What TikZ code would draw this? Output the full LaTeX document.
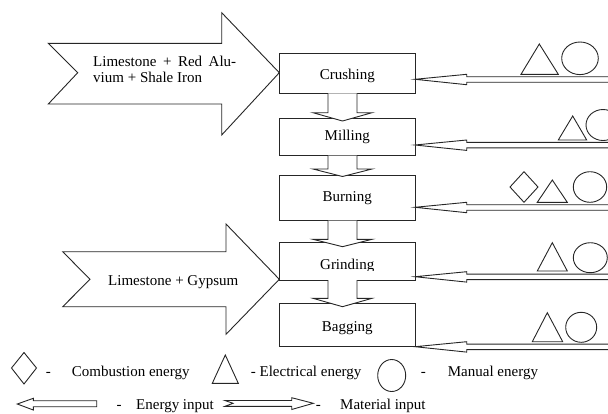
\documentclass[tikz,border=0pt]{standalone}
\usepackage{fontspec}
\setmainfont{Liberation Serif}
\begin{document}
\begin{tikzpicture}[x=1pt,y=-1pt,
  ln/.style={draw=black!85,line width=0.9pt,line join=miter},
  shp/.style={ln,fill=white},
  box/.style={ln,rectangle,inner sep=0pt,minimum width=135.5pt},
  lbl/.style={inner sep=0pt,font=\fontsize{15}{16}\selectfont},
  lblw/.style={lbl,anchor=base west},
  lblc/.style={lbl,anchor=base}]
\useasboundingbox (0,0) rectangle (608,413);
\clip (0,0) rectangle (608,413);

% process boxes
\node[box,minimum height=40pt]   (crush) at (347.25,73.3)  {};
\node[box,minimum height=37.4pt] (mill)  at (347.25,137)   {};
\node[box,minimum height=45pt]   (burn)  at (347.25,198.2) {};
\node[box,minimum height=37.3pt] (grind) at (347.25,261.3) {};
\node[box,minimum height=43.4pt] (bag)   at (347.25,325)   {};

\node[lblc] (tcrush) at (347.25,79.3)  {Crushing};
\node[lblc] (tmill)  at (347.25,140)   {Milling};
\node[lblc] (tburn)  at (347.25,201.7) {Burning};
\begin{scope}
\clip (279,242) rectangle (415,270.2);
\node[lblc] (tgrind) at (347.25,269) {Grinding};
\end{scope}
\node[lblc] (tbag)   at (347.25,331)   {Bagging};

% down arrows between stages
\draw[shp] (328,93.3) -- (328,112.7) -- (313,112.7) -- (342.5,121) -- (372,112.7) -- (357,112.7) -- (357,93.3);
\draw[shp] (328,155.7) -- (328,169) -- (313,169) -- (342.5,176.5) -- (372,169) -- (357,169) -- (357,155.7);
\draw[shp] (328,220.7) -- (328,239.3) -- (313,239.3) -- (342.5,246.7) -- (372,239.3) -- (357,239.3) -- (357,220.7);
\draw[shp] (328,280) -- (328,298.3) -- (313,298.3) -- (342.5,306.7) -- (372,298.3) -- (357,298.3) -- (357,280);

% material input arrows
\draw[shp] (48.3,43.3) -- (221.7,43.3) -- (221.7,12.7) -- (279.3,72.7) -- (221.7,135) -- (221.7,104) -- (48.3,104) -- (77.7,72.7) -- cycle;
\node[lblw] (m1a) at (93,66.7) {\makebox[143pt][s]{Limestone + Red Alu-}};
\node[lblw] (m1b) at (93,82.7) {vium + Shale Iron};
\draw[shp] (62.7,251.7) -- (226,251.7) -- (226,224) -- (279.3,279.3) -- (226,334.3) -- (226,306.7) -- (62.7,306.7) -- (90,279.3) -- cycle;
\node[lblw] (m2) at (108,285.3) {Limestone + Gypsum};

% energy input arrows
\newcommand\enarrow[1]{%
  \draw[shp] (415,#1) -- (466.7,{#1-5}) -- (466.7,{#1-2.6}) -- (615,{#1-2.6}) -- (615,{#1+2.9}) -- (466.7,{#1+2.9}) -- (466.7,{#1+5.4}) -- cycle;}
\enarrow{79.3}
\enarrow{145}
\enarrow{207.3}
\enarrow{276.7}
\enarrow{346.7}

% energy symbols
\draw[ln] (521,74.3) -- (539.3,44) -- (558.3,74.3) -- cycle;
\draw[ln] (580,58.3) ellipse [x radius=18.3pt, y radius=16.3pt];
\draw[ln] (558.3,140) -- (572.7,116) -- (586.7,140) -- cycle;
\draw[ln] (603,125) ellipse [x radius=17pt, y radius=15.5pt];
\draw[ln] (510,187) -- (524,171.7) -- (538,187) -- (524,202.3) -- cycle;
\draw[ln] (537.3,202.3) -- (552.3,180) -- (567.3,202.3) -- cycle;
\draw[ln] (590,187) ellipse [x radius=16.7pt, y radius=15.3pt];
\draw[ln] (537.3,271) -- (552.3,242.7) -- (567.3,271) -- cycle;
\draw[ln] (590.3,257.7) ellipse [x radius=17pt, y radius=15pt];
\draw[ln] (532.3,341.7) -- (547.3,312.7) -- (562.7,341.7) -- cycle;
\draw[ln] (581.2,327.3) ellipse [x radius=15.5pt, y radius=15pt];

% legend
\draw[ln] (11.5,368) -- (24,352.5) -- (36.5,368) -- (24,384) -- cycle;
\node[lblc] (d1) at (48.3,376) {-};
\node[lblw] (l1) at (71.7,376) {Combustion energy};
\draw[ln] (212.3,383.3) -- (225.3,355) -- (238.3,383.3) -- cycle;
\node[lblw] (l2) at (250.7,376) {- Electrical energy};
\draw[ln] (391.7,375.5) ellipse [x radius=14pt, y radius=16pt];
\node[lblc] (d3) at (423.3,376) {-};
\node[lblw] (l3) at (447.7,376) {Manual energy};

\draw[ln] (17.3,404) -- (33.3,398.3) -- (33.3,400.7) -- (96.7,400.7) -- (96.7,406.7) -- (33.3,406.7) -- (33.3,410) -- cycle;
\node[lblc] (d4) at (119,409) {-};
\node[lblw] (l4) at (136,409) {Energy input};
\draw[ln] (225,400.5) -- (291.7,400.5) -- (291.7,397.7) -- (313.3,403.3) -- (291.7,409.5) -- (291.7,406.3) -- (225,406.3) -- (233,403.3) -- cycle;
\node[lblc] (d5) at (318.3,409) {-};
\node[lblw] (l5) at (340,409) {Material input};
\end{tikzpicture}
\end{document}
